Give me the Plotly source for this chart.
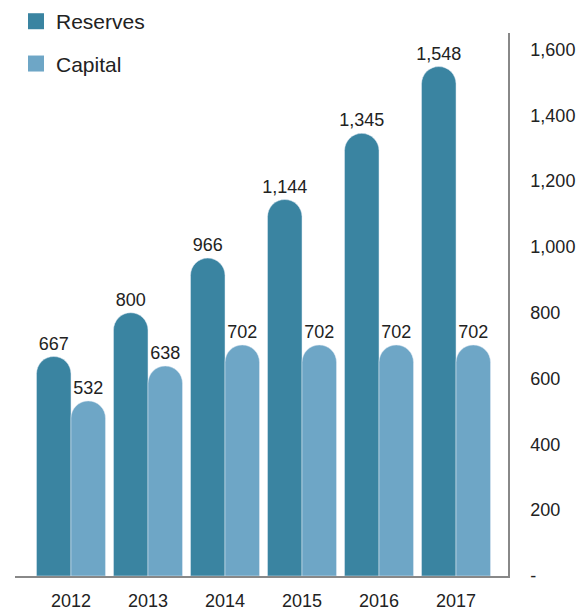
import plotly.graph_objects as go

years = ["2012", "2013", "2014", "2015", "2016", "2017"]
reserves = [667, 800, 966, 1144, 1345, 1548]
capital = [532, 638, 702, 702, 702, 702]
y_tickvals = [0, 200, 400, 600, 800, 1000, 1200, 1400, 1600]
y_ticktext = ["-", "200", "400", "600", "800", "1,000", "1,200", "1,400", "1,600"]

c_res = "#3a84a1"
c_cap = "#6ea6c6"
font = "Liberation Sans, Arial, sans-serif"

fig = go.Figure()
fig.add_trace(go.Bar(
    x=years, y=reserves, name="Reserves", marker=dict(color=c_res, cornerradius="50%"),
    text=[f"{v:,}" for v in reserves], textposition="outside", cliponaxis=False,
    constraintext="none", textfont=dict(size=18, color="#222"), showlegend=False))
fig.add_trace(go.Bar(
    x=years, y=capital, name="Capital", marker=dict(color=c_cap, cornerradius="50%"),
    text=[f"{v:,}" for v in capital], textposition="outside", cliponaxis=False,
    constraintext="none", textfont=dict(size=18, color="#222"), showlegend=False))
# legend entries
fig.add_trace(go.Scatter(x=[None], y=[None], mode="markers", name="Reserves",
                         marker=dict(symbol="square", size=17, color=c_res), legendgroup="a"))
fig.add_trace(go.Scatter(x=[None], y=[None], mode="markers", name="Capital",
                         marker=dict(symbol="square", size=17, color=c_cap), legendgroup="b"))

# page body has an 8px default margin, so the figure is sized to fit the window
fig.update_layout(
    width=579, height=602,
    margin=dict(l=7, r=79, t=25, b=34, autoexpand=False),
    paper_bgcolor="white", plot_bgcolor="white",
    font=dict(family=font, size=18, color="#222"),
    barmode="group", bargap=0.104, bargroupgap=0,
    showlegend=True,
    legend=dict(x=0.002, y=1.0588, xanchor="left", yanchor="top",
                font=dict(size=21, color="#222"), tracegroupgap=12,
                traceorder="grouped", bgcolor="rgba(0,0,0,0)"),
    xaxis=dict(type="category", range=[-0.727, 5.675], showline=True, linecolor="#888",
               linewidth=1.5, ticks="", showgrid=False, automargin=False,
               ticklabelstandoff=8, tickfont=dict(size=18, color="#222")),
    yaxis=dict(side="right", range=[0, 1650], tickvals=y_tickvals, ticktext=y_ticktext,
               showline=True, linecolor="#888", linewidth=1.5, showgrid=False, zeroline=False,
               automargin=False, ticks="", ticklabelstandoff=17,
               tickfont=dict(size=18, color="#222")),
)
fig.write_html("out.html")
